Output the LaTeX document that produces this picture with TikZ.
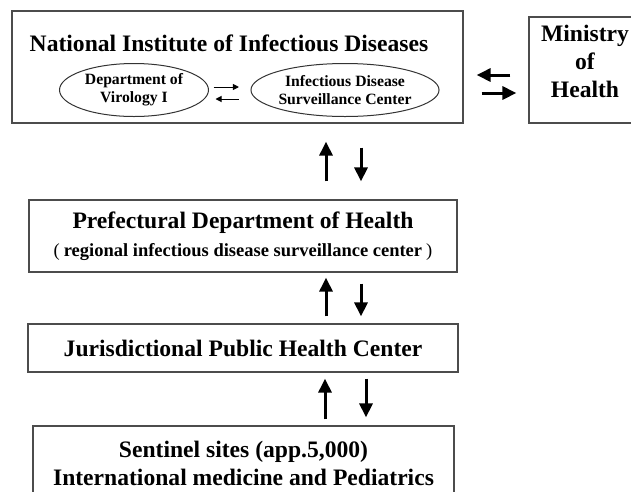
\documentclass[tikz,border=0pt]{standalone}
\usepackage{fontspec}
\setmainfont{Liberation Serif}
\usetikzlibrary{arrows.meta, shapes.geometric}

\tikzset{
  box/.style={draw=black!70, line width=1.2pt, inner sep=0pt},
  oval/.style={ellipse, draw=black!80, line width=1pt, inner sep=0pt, align=center,
    font=\fontsize{15.7}{18}\selectfont\bfseries},
  bigtext/.style={font=\fontsize{23.6}{28}\selectfont\bfseries, align=center},
  bigarrow/.style={line width=3pt, -{Triangle[length=14pt,width=13pt]}},
  smallarrow/.style={line width=1pt, -{Triangle[length=6pt,width=6pt]}}
}

\begin{document}
\begin{tikzpicture}[x=1pt, y=-1pt]

  \useasboundingbox (0,0) rectangle (631,491);

  % top level
  \node[box, minimum width=451pt, minimum height=112pt] (niid) at (237.5,67) {};
  \node[bigtext] (niidtitle) at (229,43) {National Institute of Infectious Diseases};
  \node[oval, minimum width=149pt, minimum height=53pt] (dept) at (134,90) {Department of\\Virology I};
  \node[oval, minimum width=182pt, minimum height=53pt] (isc) at (345,90) {Infectious Disease\\Surveillance Center};

  \node[box, minimum width=112pt, minimum height=106pt] (ministry) at (585,70) {};
  \node[bigtext] (ministrytext) at (585,61) {Ministry\\of\\Health};

  % lower levels
  \node[box, bigtext, minimum width=428pt, minimum height=72pt] (pref) at (243,236)
    {Prefectural Department of Health\\
     \fontsize{18.5}{28}\selectfont\textmd{(}\hspace{4pt}regional infectious disease surveillance center\hspace{4pt}\textmd{)}};
  \node[box, bigtext, minimum width=430pt, minimum height=48pt] (jur) at (243,348)
    {Jurisdictional Public Health Center};
  \node[box, bigtext, minimum width=421pt, minimum height=74pt] (sent) at (243.5,463)
    {Sentinel sites (app.5,000)\\International medicine and Pediatrics};

  % arrows inside the institute
  \draw[smallarrow, shorten <=4.5pt, shorten >=11.5pt] ([yshift=3pt]dept.east) -- ([yshift=3pt]isc.west);
  \draw[smallarrow, shorten <=11.5pt, shorten >=6.5pt] ([yshift=-9pt]isc.west) -- ([yshift=-9pt]dept.east);

  % arrows to the ministry
  \draw[bigarrow, shorten <=18pt, shorten >=13pt] ([yshift=-5pt]ministry.west) -- ([yshift=-8pt]niid.east);
  \draw[bigarrow, shorten <=18pt, shorten >=12pt] ([yshift=-26pt]niid.east) -- ([yshift=-23pt]ministry.west);

  % vertical arrows
  \draw[bigarrow, shorten <=18pt, shorten >=18pt] ([xshift=83pt]pref.north) -- ([xshift=88.5pt]niid.south);
  \draw[bigarrow, shorten <=24pt, shorten >=18pt] ([xshift=123.5pt]niid.south) -- ([xshift=118pt]pref.north);

  \draw[bigarrow, shorten <=7pt, shorten >=5pt] ([xshift=83pt]jur.north) -- ([xshift=83pt]pref.south);
  \draw[bigarrow, shorten <=11pt, shorten >=7pt] ([xshift=118pt]pref.south) -- ([xshift=118pt]jur.north);

  \draw[bigarrow, shorten <=6pt, shorten >=6pt] ([xshift=81.5pt]sent.north) -- ([xshift=82pt]jur.south);
  \draw[bigarrow, shorten <=6pt, shorten >=8pt] ([xshift=123pt]jur.south) -- ([xshift=122.5pt]sent.north);

\end{tikzpicture}
\end{document}
